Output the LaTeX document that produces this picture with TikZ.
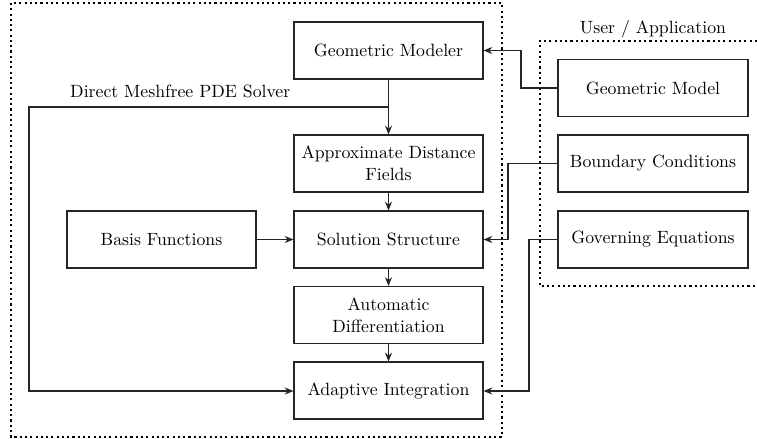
\documentclass[tikz,border=0pt]{standalone}
\usetikzlibrary{arrows.meta}

\tikzset{
  block/.style={draw=black!85, line width=0.6pt, minimum width=3.78cm, minimum height=1.14cm,
    align=center, inner sep=2pt, font=\fontsize{10.1}{12.6}\selectfont},
  link/.style={draw=black!85, line width=0.6pt, -{Stealth[length=5pt,width=4pt]}},
  frame/.style={line width=0.6pt, dash pattern=on 1.2pt off 1.8pt}
}

\begin{document}
\begin{tikzpicture}[x=0.02cm, y=-0.02cm]
      \useasboundingbox (0,0) rectangle (757,439);

      % Solver frame and user frame
      \draw[frame] (11,3) rectangle (502,437);
      \draw[frame] (757,41) -- (540,41) -- (540,286) -- (757,286);
      \node[font=\fontsize{10.1}{12}\selectfont] (user) at (653,29) {User / Application};
      \node[font=\fontsize{10.1}{12}\selectfont, anchor=west] (solver) at (64,91) {Direct Meshfree PDE Solver};

      % Central pipeline
      \node[block] (modeler) at (388.5,50.5) {Geometric Modeler};
      \node[block] (adf) at (388.5,163.5) {Approximate Distance\\Fields};
      \node[block] (structure) at (388.5,239.5) {Solution Structure};
      \node[block] (autodiff) at (388.5,315) {Automatic\\Differentiation};
      \node[block] (integration) at (388.5,390.5) {Adaptive Integration};
      \node[block] (basis) at (161.5,239.5) {Basis Functions};

      % User inputs
      \node[block, minimum width=3.8cm] (model) at (653,88) {Geometric Model};
      \node[block, minimum width=3.8cm] (bc) at (653,163.5) {Boundary Conditions};
      \node[block, minimum width=3.8cm] (equations) at (653,239.5) {Governing Equations};

      % Pipeline arrows
      \draw[link] (modeler) -- (adf);
      \draw[link] (adf) -- (structure);
      \draw[link] (structure) -- (autodiff);
      \draw[link] (autodiff) -- (integration);
      \draw[link] (basis) -- (structure);

      % Bypass from modeler to integration
      \draw[link] (modeler.south |- 0,107) -- (29,107) -- (29,391) -- (integration.west |- 0,391);

      % Inputs from the user side
      \draw[link] (model.west) -- (521,88) -- (521,50.5) -- (modeler.east);
      \draw[link] (bc.west) -- (508,163.5) -- (508,239.5) -- (structure.east);
      \draw[link] (equations.west) -- (529,239.5) -- (529,391) -- (integration.east |- 0,391);
\end{tikzpicture}
\end{document}
